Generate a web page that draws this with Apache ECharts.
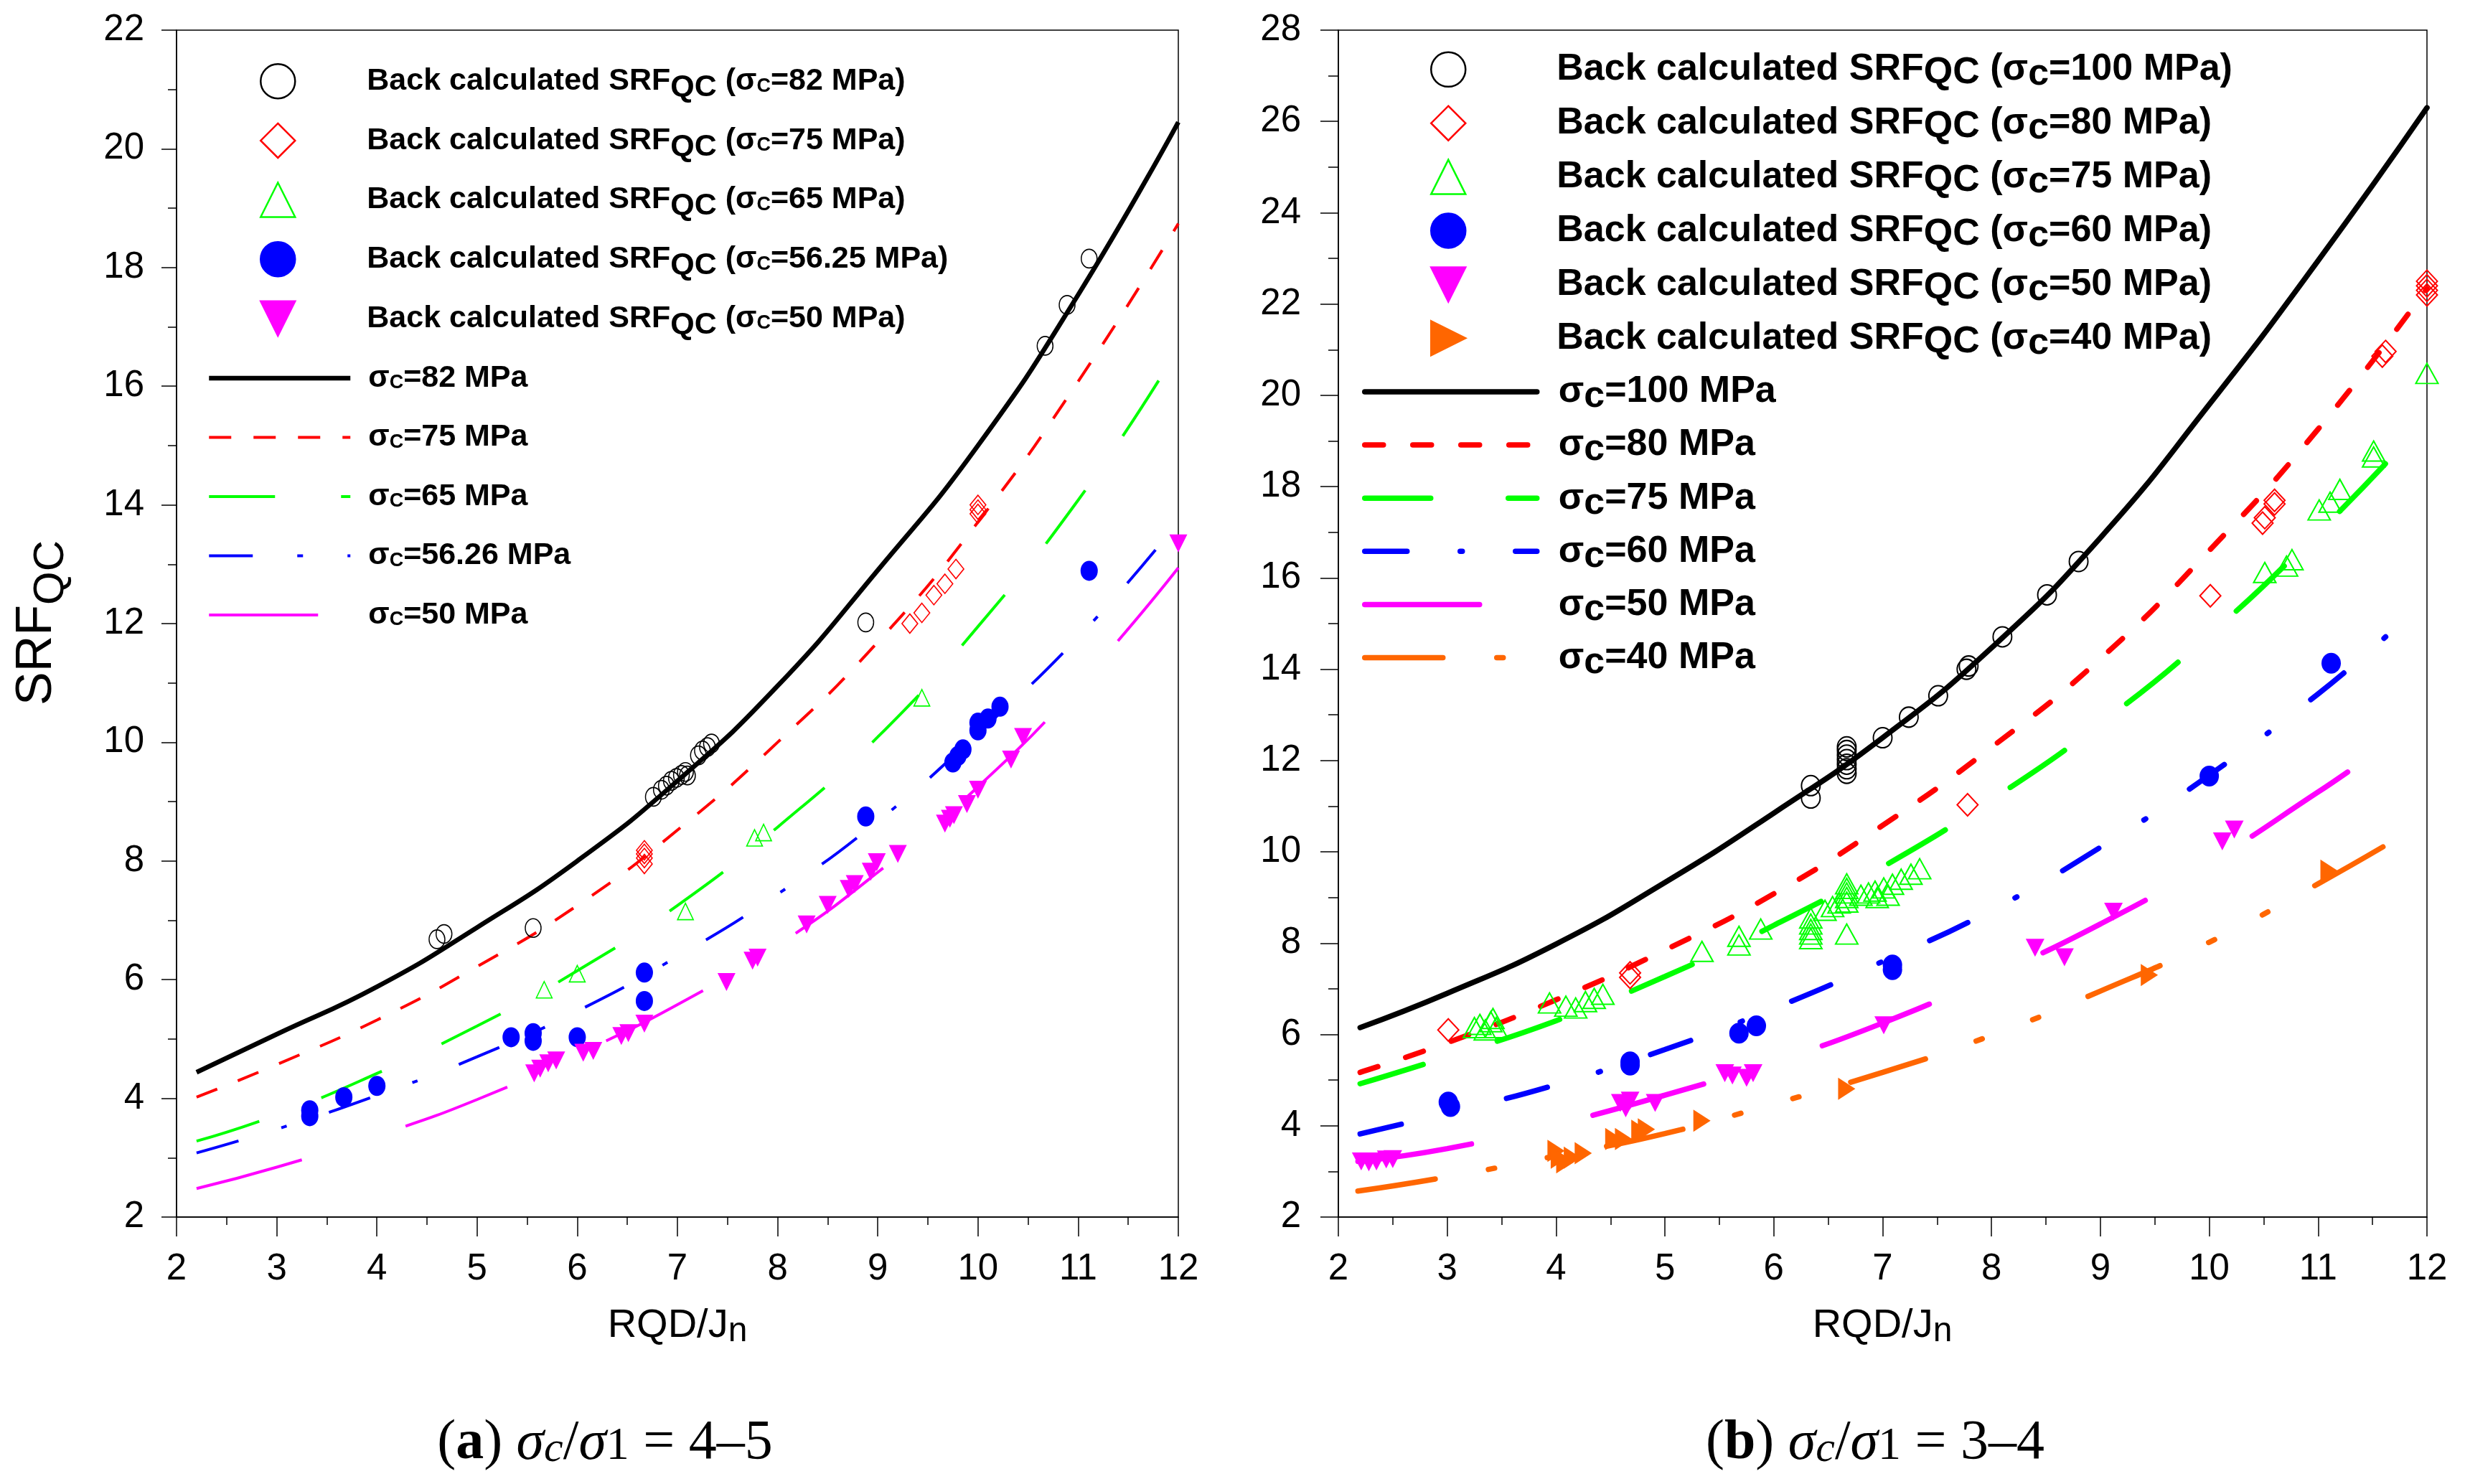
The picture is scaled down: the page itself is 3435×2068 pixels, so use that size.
<!DOCTYPE html>
<html>
<head>
<meta charset="utf-8">
<script src="https://cdn.jsdelivr.net/npm/echarts@6/dist/echarts.min.js"></script>
<style>
  html, body { margin: 0; padding: 0; background: #fff; }
  #chart { width: 3435px; height: 2068px; }
</style>
</head>
<body>
<div id="chart"></div>
<script>
// ---- panel (a) sigma_c/sigma_1 = 4-5 : back calculated points ----
const aPts82 = [[4.6,6.68],[4.67,6.77],[5.56,6.87],[6.76,9.08],[6.84,9.2],[6.89,9.27],[6.94,9.35],[6.99,9.4],[7.04,9.45],[7.08,9.5],[7.1,9.44],[7.21,9.78],[7.25,9.86],[7.3,9.92],[7.34,9.98],[8.88,12.02],[10.67,16.68],[10.89,17.37],[11.11,18.15]];
const aPts75 = [[6.67,8.18],[6.67,8.12],[6.67,8.05],[6.67,7.95],[9.32,12.0],[9.44,12.18],[9.56,12.48],[9.67,12.67],[9.78,12.92],[10.0,14.0],[10.0,13.92],[10.0,13.85]];
const aPts65 = [[5.67,5.83],[6.0,6.1],[7.08,7.15],[7.77,8.39],[7.86,8.48],[9.44,10.75]];
const aPts56 = [[3.33,3.8],[3.33,3.7],[3.67,4.02],[4.0,4.21],[5.34,5.03],[5.56,5.1],[5.56,4.97],[6.0,5.03],[6.67,6.12],[6.67,5.64],[8.88,8.75],[9.75,9.66],[9.8,9.77],[9.85,9.88],[10.0,10.2],[10.0,10.33],[10.1,10.4],[10.22,10.6],[11.11,12.89]];
const aPts50 = [[5.57,4.42],[5.63,4.5],[5.71,4.59],[5.79,4.64],[6.06,4.77],[6.16,4.8],[6.44,5.05],[6.51,5.1],[6.67,5.26],[7.49,5.96],[7.75,6.32],[7.8,6.37],[8.29,6.93],[8.5,7.26],[8.71,7.53],[8.77,7.61],[8.93,7.82],[8.99,7.98],[9.2,8.12],[9.67,8.63],[9.72,8.71],[9.76,8.77],[9.89,8.96],[10.0,9.2],[10.33,9.71],[10.45,10.09],[12.0,13.35]];
// panel (a) fitted curves
const aLine82 = [[2.2,4.44],[3,5.08],[4,5.88],[5,6.88],[6,8.0],[7,9.35],[8,10.95],[9,12.9],[10,15.0],[11,17.54],[12,20.45]];
const aLine75 = [[2.2,4.02],[3,4.57],[4,5.32],[5,6.22],[6,7.25],[7,8.52],[8,10.0],[9,11.69],[10,13.71],[11,16.08],[12,18.74]];
const aLine65 = [[2.2,3.28],[3,3.72],[4,4.42],[5,5.22],[6,6.15],[7,7.25],[8,8.57],[9,10.09],[10,11.95],[11,14.08],[11.85,16.22]];
const aLine56 = [[2.2,3.08],[3,3.48],[4,4.05],[5,4.7],[6,5.47],[7,6.39],[8,7.44],[9,8.67],[10,10.15],[11,11.77],[11.83,13.36]];
const aLine50 = [[2.2,2.48],[3,2.84],[4,3.37],[5,3.98],[6,4.74],[7,5.58],[8,6.58],[9,7.81],[10,9.25],[11,10.95],[12,12.94]];

// ---- panel (b) sigma_c/sigma_1 = 3-4 : back calculated points ----
const bPts100 = [[6.34,11.18],[6.34,11.45],[6.67,11.72],[6.67,11.82],[6.67,11.92],[6.67,12.02],[6.67,12.12],[6.67,12.22],[6.67,12.3],[7.0,12.5],[7.24,12.95],[7.51,13.42],[7.77,14.0],[7.79,14.07],[8.1,14.71],[8.51,15.63],[8.8,16.36]];
const bPts80 = [[3.01,6.1],[4.68,7.25],[4.68,7.35],[7.78,11.03],[10.01,15.61],[10.49,17.2],[10.51,17.32],[10.6,17.62],[10.6,17.7],[11.59,20.86],[11.62,20.96],[12,22.2],[12,22.3],[12,22.4],[12,22.5]];
const bPts75 = [[3.25,6.15],[3.3,6.22],[3.35,6.1],[3.4,6.28],[3.42,6.35],[3.45,6.15],[3.94,6.69],[4.09,6.62],[4.18,6.58],[4.27,6.72],[4.35,6.79],[4.43,6.88],[5.34,7.82],[5.68,7.96],[5.68,8.15],[5.88,8.31],[6.34,8.1],[6.34,8.2],[6.34,8.3],[6.34,8.42],[6.34,8.55],[6.47,8.72],[6.54,8.8],[6.6,8.88],[6.67,8.2],[6.67,8.9],[6.67,9.0],[6.67,9.1],[6.67,9.2],[6.67,9.3],[6.8,9.05],[6.87,9.1],[6.93,9.14],[6.95,9.0],[7.01,9.21],[7.05,9.05],[7.09,9.29],[7.17,9.4],[7.26,9.51],[7.34,9.63],[10.51,16.12],[10.71,16.26],[10.76,16.4],[11.01,17.49],[11.11,17.66],[11.2,17.94],[11.51,18.65],[11.51,18.78],[12.0,20.48]];
const bPts60 = [[3.01,4.52],[3.03,4.42],[4.68,5.33],[4.68,5.4],[5.68,6.03],[5.84,6.19],[7.09,7.42],[7.09,7.52],[10.0,11.66],[11.12,14.13]];
const bPts50 = [[2.21,3.22],[2.28,3.2],[2.35,3.22],[2.44,3.26],[2.5,3.27],[4.59,4.5],[4.64,4.38],[4.68,4.55],[4.91,4.5],[5.55,5.15],[5.62,5.1],[5.75,5.05],[5.81,5.15],[7.01,6.2],[8.4,7.9],[8.67,7.69],[9.12,8.69],[10.12,10.23],[10.23,10.49]];
const bPts40 = [[4.0,3.45],[4.03,3.3],[4.08,3.2],[4.15,3.3],[4.25,3.4],[4.53,3.71],[4.62,3.71],[4.77,3.89],[4.83,3.92],[5.34,4.11],[6.67,4.81],[9.45,7.3],[11.1,9.59]];
// panel (b) fitted curves
const bLine100 = [[2.2,6.15],[3,6.9],[4,7.98],[5,9.33],[6,10.85],[7,12.5],[8,14.47],[9,16.88],[10,19.8],[11,22.95],[12,26.3]];
const bLine80 = [[2.2,5.17],[3,5.82],[4,6.76],[5,7.85],[6,9.08],[7,10.58],[8,12.29],[9,14.23],[10,16.6],[11,19.26],[12,22.34]];
const bLine75 = [[2.2,4.92],[3,5.51],[4,6.3],[5,7.27],[6,8.39],[7,9.67],[8,11.14],[9,12.81],[10,14.75],[11,16.99],[11.7,18.71]];
const bLine60 = [[2.2,3.82],[3,4.28],[4,4.9],[5,5.67],[6,6.57],[7,7.6],[8,8.72],[9,10.1],[10,11.68],[11,13.46],[11.69,14.86]];
const bLine50 = [[2.18,3.22],[3,3.5],[4,4.03],[5,4.67],[6,5.4],[7,6.25],[8,7.28],[9,8.42],[10,9.76],[11,11.31],[11.35,11.88]];
const bLine40 = [[2.18,2.57],[3,2.88],[4,3.34],[5,3.83],[6,4.48],[7,5.17],[8,5.98],[9,6.95],[10,8.02],[11,9.3],[11.66,10.2]];

const SANS = "'Liberation Sans', Arial, sans-serif";
const SERIF = "'Liberation Serif', 'Times New Roman', serif";
const TRI_DOWN = 'path://M0,0 L20,0 L10,20 Z';
const TRI_RIGHT = 'path://M0,0 L20,10 L0,20 Z';

const LABELS = {};
function ptLabel(id, val, sub) {
  LABELS[id] = '{f|Back calculated SRF}{q|QC}{t| (σ}{c|' + sub + '}{t|=' + val + ' MPa)}';
}
function lnLabel(id, val, sub) {
  LABELS[id] = '{f|σ}{c|' + sub + '}{t|=' + val + ' MPa}';
}

function pts(id, ax, data, symbol, size, color, open, bw) {
  return {
    name: id, type: 'scatter', xAxisIndex: ax, yAxisIndex: ax, data: data,
    symbol: symbol, symbolSize: size, z: 3,
    itemStyle: open
      ? { color: 'rgba(255,255,255,0)', borderColor: color, borderWidth: bw, opacity: 1 }
      : { color: color, borderColor: color, borderWidth: 0, opacity: 1 }
  };
}
function curve(id, ax, data, color, width, dash, cap) {
  return {
    name: id, type: 'line', xAxisIndex: ax, yAxisIndex: ax, data: data,
    smooth: true, symbol: 'none', z: 2,
    itemStyle: { color: color },
    lineStyle: { color: color, width: width, type: dash, cap: cap }
  };
}

ptLabel('a_p82', '82', 'C'); ptLabel('a_p75', '75', 'C'); ptLabel('a_p65', '65', 'C');
ptLabel('a_p56', '56.25', 'C'); ptLabel('a_p50', '50', 'C');
lnLabel('a_l82', '82', 'C'); lnLabel('a_l75', '75', 'C'); lnLabel('a_l65', '65', 'C');
lnLabel('a_l56', '56.26', 'C'); lnLabel('a_l50', '50', 'C');
ptLabel('b_p100', '100', 'c'); ptLabel('b_p80', '80', 'c'); ptLabel('b_p75', '75', 'c');
ptLabel('b_p60', '60', 'c'); ptLabel('b_p50', '50', 'c'); ptLabel('b_p40', '40', 'c');
lnLabel('b_l100', '100', 'c'); lnLabel('b_l80', '80', 'c'); lnLabel('b_l75', '75', 'c');
lnLabel('b_l60', '60', 'c'); lnLabel('b_l50', '50', 'c'); lnLabel('b_l40', '40', 'c');

const series = [
  pts('a_p82', 0, aPts82, 'circle', [22, 26], '#000000', true, 1.6),
  pts('a_p75', 0, aPts75, 'diamond', [22, 27], '#ff0000', true, 1.6),
  pts('a_p65', 0, aPts65, 'triangle', [22, 23], '#00ff00', true, 1.6),
  pts('a_p56', 0, aPts56, 'circle', [24, 28], '#0000ff', false),
  pts('a_p50', 0, aPts50, TRI_DOWN, [25, 25], '#ff00ff', false),
  curve('a_l82', 0, aLine82, '#000000', 6.5, 'solid', 'butt'),
  curve('a_l75', 0, aLine75, '#ff0000', 4, [31, 31], 'butt'),
  curve('a_l65', 0, aLine65, '#00ff00', 4, [92, 92], 'butt'),
  curve('a_l56', 0, aLine56, '#0000ff', 4, [61, 62, 8, 62], 'butt'),
  curve('a_l50', 0, aLine50, '#ff00ff', 4, [152, 152], 'butt'),

  pts('b_p100', 1, bPts100, 'circle', [26, 28], '#000000', true, 2),
  pts('b_p80', 1, bPts80, 'diamond', [29, 31], '#ff0000', true, 2),
  pts('b_p75', 1, bPts75, 'triangle', [31, 28], '#00ff00', true, 2),
  pts('b_p60', 1, bPts60, 'circle', [27, 29], '#0000ff', false),
  pts('b_p50', 1, bPts50, TRI_DOWN, [26, 25], '#ff00ff', false),
  pts('b_p40', 1, bPts40, TRI_RIGHT, [24, 31], '#ff6600', false),
  curve('b_l100', 1, bLine100, '#000000', 7.5, 'solid', 'round'),
  curve('b_l80', 1, bLine80, '#ff0000', 7.5, [26, 41], 'round'),
  curve('b_l75', 1, bLine75, '#00ff00', 7.5, [92, 108], 'round'),
  curve('b_l60', 1, bLine60, '#0000ff', 7.5, [59, 74, 3, 74], 'round'),
  curve('b_l50', 1, bLine50, '#ff00ff', 7.5, [160, 174], 'round'),
  curve('b_l40', 1, bLine40, '#ff6600', 7.5, [109, 75, 9, 75, 9, 75], 'round')
];

function xAxisOf(idx) {
  return {
    gridIndex: idx, type: 'value', min: 2, max: 12, interval: 1,
    axisLine: { show: true, onZero: false, lineStyle: { color: '#000', width: 1.5 } },
    axisTick: { show: true, inside: false, length: 27, lineStyle: { color: '#000', width: 1.5 } },
    minorTick: { show: true, splitNumber: 2, length: 11, lineStyle: { color: '#000', width: 1.5 } },
    axisLabel: { margin: 47, fontSize: 51, fontFamily: SANS, color: '#000' },
    splitLine: { show: false }
  };
}
function yAxisOf(idx, max, tick, minor, margin) {
  return {
    gridIndex: idx, type: 'value', min: 2, max: max, interval: 2,
    axisLine: { show: true, onZero: false, lineStyle: { color: '#000', width: 1.5 } },
    axisTick: { show: true, inside: false, length: tick, lineStyle: { color: '#000', width: 1.5 } },
    minorTick: { show: true, splitNumber: 2, length: minor, lineStyle: { color: '#000', width: 1.5 } },
    axisLabel: { margin: margin, fontSize: 51, fontFamily: SANS, color: '#000' },
    splitLine: { show: false }
  };
}

// rich styles for legend text: every token is padded to the same total height `tall`,
// and the subscripts get more padding on top than below so they sit lower
function legendRich(size, tall, pad, qShift, cSize, cShift) {
  const base = { fontFamily: SANS, fontWeight: 'bold', fontSize: size, color: '#000' };
  const even = (tall - size) / 2;
  const qTop = (tall - size + 2 * qShift) / 2;
  const cTop = (tall - cSize + 2 * cShift) / 2;
  return {
    f: Object.assign({}, base, { padding: [even, 0, even, pad] }),
    t: Object.assign({}, base, { padding: [even, 0, even, 0] }),
    q: Object.assign({}, base, { padding: [qTop, 0, tall - size - qTop, 0] }),
    c: Object.assign({}, base, { fontSize: cSize, padding: [cTop, 0, tall - cSize - cTop, 0] })
  };
}
function legendOf(left, top, width, gap, names, rich, isLine) {
  const lg = {
    orient: 'vertical', left: left, top: top, padding: 0,
    itemWidth: width, itemHeight: 48, itemGap: gap, selectedMode: false,
    data: names,
    formatter: function (name) { return LABELS[name]; },
    textStyle: { rich: rich }
  };
  if (isLine) {
    lg.itemStyle = { opacity: 0, borderWidth: 0 };
    lg.lineStyle = { width: 'inherit', cap: 'inherit' };
  } else {
    lg.itemStyle = { borderWidth: 2.5 };
  }
  return lg;
}

const A_TALL = 64, B_TALL = 66;
const chart = echarts.init(document.getElementById('chart'));
chart.setOption({
  animation: false,
  backgroundColor: '#fff',
  textStyle: { fontFamily: SANS },
  grid: [
    { left: 246, top: 42, width: 1396, height: 1654, show: true, borderColor: '#000', borderWidth: 1.5, backgroundColor: 'transparent', outerBoundsMode: 'none' },
    { left: 1865, top: 42, width: 1517, height: 1654, show: true, borderColor: '#000', borderWidth: 1.5, backgroundColor: 'transparent', outerBoundsMode: 'none' }
  ],
  xAxis: [xAxisOf(0), xAxisOf(1)],
  yAxis: [yAxisOf(0, 22, 21, 12, 45), yAxisOf(1, 28, 25, 14, 52)],
  legend: [
    legendOf(362, 88, 48, 26.9, ['a_p82', 'a_p75', 'a_p65', 'a_p56', 'a_p50'], legendRich(43, A_TALL, 95, 9, 27, 7), false),
    legendOf(288, 505.5, 197, 39.5, ['a_l82', 'a_l75', 'a_l65', 'a_l56', 'a_l50'], legendRich(43, A_TALL, 20, 9, 27, 7), true),
    legendOf(1993, 70.8, 48, 15.9, ['b_p100', 'b_p80', 'b_p75', 'b_p60', 'b_p50', 'b_p40'], legendRich(52, B_TALL, 122, 5, 52, 7), false),
    legendOf(1898, 520, 240, 15.1, ['b_l100', 'b_l80', 'b_l75', 'b_l60', 'b_l50', 'b_l40'], legendRich(52, B_TALL, 25, 5, 52, 7), true)
  ],
  graphic: [
    {
      type: 'text', x: 52, y: 868, rotation: Math.PI / 2,
      style: {
        text: '{m|SRF}{q|QC}', align: 'center', verticalAlign: 'middle',
        rich: {
          m: { fontFamily: SANS, fontSize: 70, lineHeight: 76, height: 76, fill: '#000' },
          q: { fontFamily: SANS, fontSize: 60, lineHeight: 76, height: 37, padding: [39, 0, 0, 0], fill: '#000' }
        }
      }
    },
    {
      type: 'text', x: 944, y: 1848,
      style: {
        text: '{m|RQD/J}{n|n}', align: 'center', verticalAlign: 'middle',
        rich: {
          m: { fontFamily: SANS, fontSize: 56, lineHeight: 60, height: 60, fill: '#000' },
          n: { fontFamily: SANS, fontSize: 48, lineHeight: 60, height: 44, padding: [16, 0, 0, 0], fill: '#000' }
        }
      }
    },
    {
      type: 'text', x: 2623, y: 1848,
      style: {
        text: '{m|RQD/J}{n|n}', align: 'center', verticalAlign: 'middle',
        rich: {
          m: { fontFamily: SANS, fontSize: 56, lineHeight: 60, height: 60, fill: '#000' },
          n: { fontFamily: SANS, fontSize: 48, lineHeight: 60, height: 44, padding: [16, 0, 0, 0], fill: '#000' }
        }
      }
    },
    {
      type: 'text', x: 843, y: 2012,
      style: {
        text: '{p|(}{b|a}{p|) }{s|σ}{ci|c}{p|/}{s|σ}{one|1}{p| = 4–5}', align: 'center', verticalAlign: 'middle',
        rich: {
          p: { fontFamily: SERIF, fontSize: 78, lineHeight: 90, height: 90, fill: '#000' },
          b: { fontFamily: SERIF, fontSize: 78, fontWeight: 'bold', lineHeight: 90, height: 90, fill: '#000' },
          s: { fontFamily: SERIF, fontSize: 78, fontStyle: 'italic', lineHeight: 90, height: 90, fill: '#000' },
          ci: { fontFamily: SERIF, fontSize: 60, fontStyle: 'italic', lineHeight: 90, height: 74, padding: [16, 0, 0, 0], fill: '#000' },
          one: { fontFamily: SERIF, fontSize: 64, lineHeight: 90, height: 82, padding: [8, 0, 0, 0], fill: '#000' }
        }
      }
    },
    {
      type: 'text', x: 2613, y: 2012,
      style: {
        text: '{p|(}{b|b}{p|) }{s|σ}{ci|c}{p|/}{s|σ}{one|1}{p| = 3–4}', align: 'center', verticalAlign: 'middle',
        rich: {
          p: { fontFamily: SERIF, fontSize: 78, lineHeight: 90, height: 90, fill: '#000' },
          b: { fontFamily: SERIF, fontSize: 78, fontWeight: 'bold', lineHeight: 90, height: 90, fill: '#000' },
          s: { fontFamily: SERIF, fontSize: 78, fontStyle: 'italic', lineHeight: 90, height: 90, fill: '#000' },
          ci: { fontFamily: SERIF, fontSize: 60, fontStyle: 'italic', lineHeight: 90, height: 74, padding: [16, 0, 0, 0], fill: '#000' },
          one: { fontFamily: SERIF, fontSize: 64, lineHeight: 90, height: 82, padding: [8, 0, 0, 0], fill: '#000' }
        }
      }
    }
  ],
  series: series
});
</script>
</body>
</html>
